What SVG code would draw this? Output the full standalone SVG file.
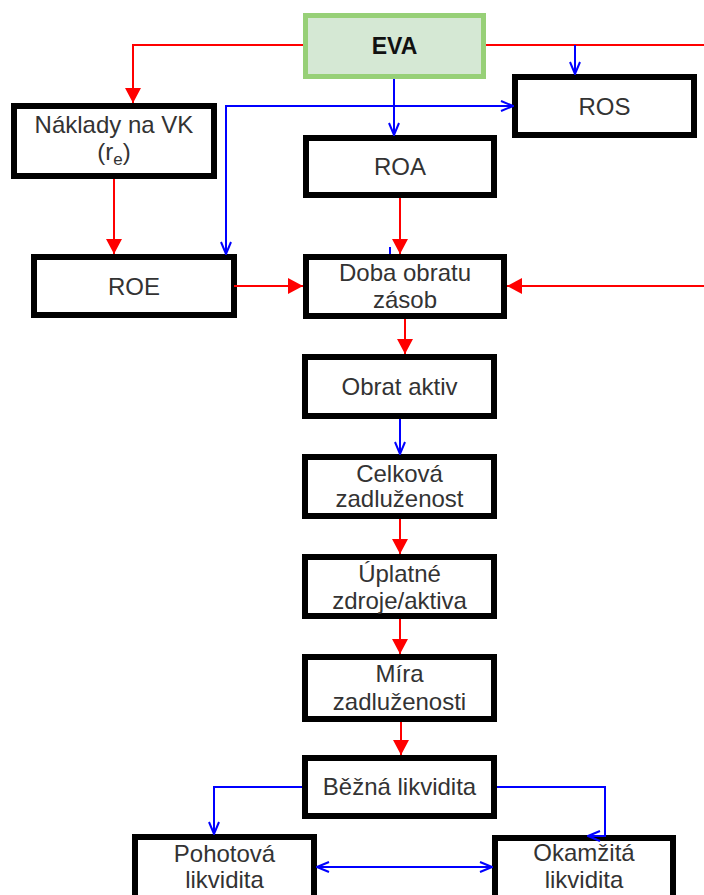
<svg xmlns="http://www.w3.org/2000/svg" width="704" height="895" viewBox="0 0 704 895">
<style>
.box{fill:#fff;stroke:#000;stroke-width:6}
.t{font-family:"Liberation Sans",Arial,sans-serif;font-size:24px;fill:#333;text-anchor:middle}
.r{fill:none;stroke:#FF0000;stroke-width:2}
.b{fill:none;stroke:#0000FF;stroke-width:2}
</style>
<defs>
<marker id="ra" viewBox="0 0 15 16" refX="15" refY="8" markerWidth="15" markerHeight="16" markerUnits="userSpaceOnUse" orient="auto">
<path d="M0,0 L15,8 L0,16 z" fill="#FF0000"/>
</marker>
<marker id="ba" viewBox="0 0 14 12" refX="13" refY="6" markerWidth="14" markerHeight="12" markerUnits="userSpaceOnUse" orient="auto-start-reverse">
<path d="M1,1 L13,6 L1,11" fill="none" stroke="#0000FF" stroke-width="2"/>
</marker>
</defs>
<rect width="704" height="895" fill="#fff"/>
<g id="nodes">
<g id="eva"><rect x="305.5" y="15.5" width="178" height="61" fill="#D5E8D4" stroke="#97D077" stroke-width="5"/><text class="t" x="394.5" y="54" style="fill:#111;font-weight:bold;font-size:23px">EVA</text></g>
<g id="naklady"><rect class="box" x="14" y="106" width="200" height="70"/><text class="t" x="114" y="133">Náklady na VK</text><text class="t" x="114" y="160">(r<tspan font-size="17" dy="5">e</tspan><tspan dy="-5">)</tspan></text></g>
<g id="ros"><rect class="box" x="515" y="77" width="179" height="58"/><text class="t" x="604.5" y="115">ROS</text></g>
<g id="roa"><rect class="box" x="306" y="138" width="188" height="57"/><text class="t" x="400" y="175">ROA</text></g>
<g id="roe"><rect class="box" x="34" y="257" width="200" height="58"/><text class="t" x="134" y="295">ROE</text></g>
<g id="doba"><rect class="box" x="306" y="257" width="198" height="59"/><text class="t" x="405" y="281">Doba obratu</text><text class="t" x="405" y="308">zásob</text></g>
<g id="obrat"><rect class="box" x="305" y="357" width="189" height="59"/><text class="t" x="399.5" y="395">Obrat aktiv</text></g>
<g id="celkova"><rect class="box" x="305" y="457" width="189" height="59"/><text class="t" x="399.5" y="482">Celková</text><text class="t" x="399.5" y="507">zadluženost</text></g>
<g id="uplatne"><rect class="box" x="305" y="557" width="189" height="59"/><text class="t" x="399.5" y="582">Úplatné</text><text class="t" x="399.5" y="609">zdroje/aktiva</text></g>
<g id="mira"><rect class="box" x="305" y="657" width="189" height="62"/><text class="t" x="399.5" y="682">Míra</text><text class="t" x="399.5" y="710">zadluženosti</text></g>
<g id="bezna"><rect class="box" x="305" y="758" width="189" height="58"/><text class="t" x="399.5" y="795">Běžná likvidita</text></g>
<g id="pohotova"><rect class="box" x="135" y="837" width="179" height="70"/><text class="t" x="224.5" y="862">Pohotová</text><text class="t" x="224.5" y="888">likvidita</text></g>
<g id="okamzita"><rect class="box" x="495" y="838" width="178" height="70"/><text class="t" x="584" y="861">Okamžitá</text><text class="t" x="584" y="888">likvidita</text></g>
</g>
<g id="connectors">
<path class="r" d="M303,45 H133 V103" marker-end="url(#ra)"/>
<path class="r" d="M486,45 H704"/>
<path class="r" d="M114,179 V254" marker-end="url(#ra)"/>
<path class="b" d="M390,247 V254"/>
<path class="r" d="M400,198 V254" marker-end="url(#ra)"/>
<path class="r" d="M234,286 H303" marker-end="url(#ra)"/>
<path class="r" d="M704,286 H507" marker-end="url(#ra)"/>
<path class="r" d="M405,319 V354" marker-end="url(#ra)"/>
<path class="r" d="M400,519 V554" marker-end="url(#ra)"/>
<path class="r" d="M400,619 V654" marker-end="url(#ra)"/>
<path class="r" d="M401,722 V755" marker-end="url(#ra)"/>
<path class="b" d="M394,79 V135" marker-end="url(#ba)"/>
<path class="b" d="M575,45 V74" marker-end="url(#ba)"/>
<path class="b" d="M226,254 V106 H513" marker-start="url(#ba)" marker-end="url(#ba)"/>
<path class="b" d="M400,419 V454" marker-end="url(#ba)"/>
<path class="b" d="M302,787 H214 V834" marker-end="url(#ba)"/>
<path class="b" d="M497,787 H605 V836 H588" marker-end="url(#ba)"/>
<path class="b" d="M317,867 H492" marker-start="url(#ba)" marker-end="url(#ba)"/>
</g>
</svg>
